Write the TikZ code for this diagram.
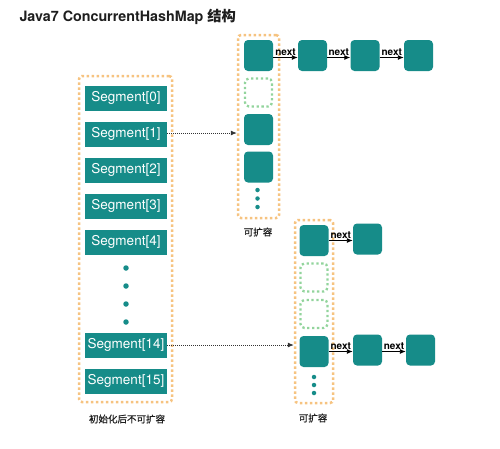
\documentclass[tikz,border=0pt]{standalone}
\usepackage{fontspec}
\setmainfont{TeX Gyre Heros}
\newfontfamily\cjk{Noto Sans CJK SC}
\newfontfamily\cjkmed[FakeBold=0.8]{Noto Sans CJK SC}
\usetikzlibrary{arrows.meta}
\definecolor{tealbox}{RGB}{22,140,137}
\definecolor{orangedot}{RGB}{246,195,128}
\definecolor{greendot}{RGB}{146,212,156}
\definecolor{titlegray}{RGB}{30,30,30}
\tikzset{
  seg/.style={fill=tealbox, minimum width=82pt, minimum height=25pt, text=white, inner sep=0pt, font=\fontsize{13.5}{15}\selectfont},
  bucket/.style={fill=tealbox, rounded corners=4pt, minimum width=29pt, minimum height=31pt, inner sep=0pt},
  emptyb/.style={draw=greendot, line width=2.3pt, dash pattern=on 2.3pt off 2.6pt, rounded corners=4pt, minimum width=27pt, minimum height=28pt, inner sep=0pt},
  container/.style={draw=orangedot, line width=2.5pt, dash pattern=on 2.5pt off 2.5pt, rounded corners=3pt, inner sep=0pt},
  bigdot/.style={circle, fill=tealbox, minimum size=5.5pt, inner sep=0pt},
  smalldot/.style={circle, fill=tealbox, minimum size=4.5pt, inner sep=0pt},
  nextarrow/.style={-{Latex[length=6pt,width=5pt]}, line width=0.9pt, black},
  nextlabel/.style={font=\bfseries\fontsize{10}{11}\selectfont, inner sep=1pt, above},
  ptr/.style={-{Latex[length=6pt,width=5pt]}, line width=0.8pt, black!80, dash pattern=on 1pt off 1pt},
  caption/.style={font=\cjkmed\fontsize{9.5}{11}\selectfont, text=titlegray}
}
\begin{document}
\begin{tikzpicture}[x=1pt,y=-1pt]
\useasboundingbox (0,0) rectangle (500,448);
\node[anchor=west, font=\bfseries\fontsize{14.3}{16}\selectfont, text=titlegray] (title) at (16,17) {Java7 ConcurrentHashMap {\cjk 结构}};

% left segment array
\node[container, minimum width=93pt, minimum height=326pt] (segarr) at (125.5,239) {};
\node[seg] (s0) at (126,98) {Segment[0]};
\node[seg] (s1) at (126,134) {Segment[1]};
\node[seg] (s2) at (126,170) {Segment[2]};
\node[seg] (s3) at (126,206) {Segment[3]};
\node[seg] (s4) at (126,242) {Segment[4]};
\node[bigdot] (d1) at (126,268) {};
\node[bigdot] (d2) at (126,286) {};
\node[bigdot] (d3) at (126,304) {};
\node[bigdot] (d4) at (126,322) {};
\node[seg] (s14) at (126,345) {Segment[14]};
\node[seg] (s15) at (126,381) {Segment[15]};
\node[caption] (cap1) at (127,419) {初始化后不可扩容};

% top hash table
\node[container, minimum width=41pt, minimum height=183pt] (tcol) at (258.5,126.5) {};
\node[bucket] (t0) at (258.5,55.5) {};
\node[emptyb] (t1) at (258.5,92.5) {};
\node[bucket] (t2) at (258.5,129.5) {};
\node[bucket] (t3) at (258.5,167) {};
\node[smalldot] (td1) at (257.5,190) {};
\node[smalldot] (td2) at (257.5,198.5) {};
\node[smalldot] (td3) at (257.5,207) {};
\node[caption] (cap2) at (258,232) {可扩容};
\node[bucket] (ta) at (312.5,55.5) {};
\node[bucket] (tb) at (365,55.5) {};
\node[bucket] (tc) at (418.5,55.5) {};
\draw[nextarrow] ([yshift=-2pt]t0.east) -- node[nextlabel] (n1) {next} ([yshift=-2pt]ta.west);
\draw[nextarrow] ([yshift=-2pt]ta.east) -- node[nextlabel] (n2) {next} ([yshift=-2pt]tb.west);
\draw[nextarrow] ([yshift=-2pt]tb.east) -- node[nextlabel] (n3) {next} ([yshift=-2pt]tc.west);

% bottom hash table
\node[container, minimum width=38pt, minimum height=183pt] (bcol) at (314,311.5) {};
\node[bucket] (b0) at (314,240.5) {};
\node[emptyb] (b1) at (314,277.5) {};
\node[emptyb] (b2) at (314,314) {};
\node[bucket] (b3) at (314,351.5) {};
\node[smalldot] (bd1) at (314,377) {};
\node[smalldot] (bd2) at (314,385) {};
\node[smalldot] (bd3) at (314,393) {};
\node[caption] (cap3) at (313,418) {可扩容};
\node[bucket] (ba) at (367.5,239) {};
\node[bucket] (bb) at (367.5,350) {};
\node[bucket] (bc) at (420.5,350) {};
\draw[nextarrow] (b0.east) -- node[nextlabel] (n4) {next} (b0.east -| ba.west);
\draw[nextarrow] (b3.east) -- node[nextlabel] (n5) {next} (b3.east -| bb.west);
\draw[nextarrow] (b3.east -| bb.east) -- node[nextlabel] (n6) {next} (b3.east -| bc.west);

% pointers from segments
\draw[ptr] ([yshift=1pt]s1.east) -- ([yshift=1pt]s1.east -| tcol.west);
\draw[ptr] (s14.east) -- (s14.east -| bcol.west);
\end{tikzpicture}
\end{document}
